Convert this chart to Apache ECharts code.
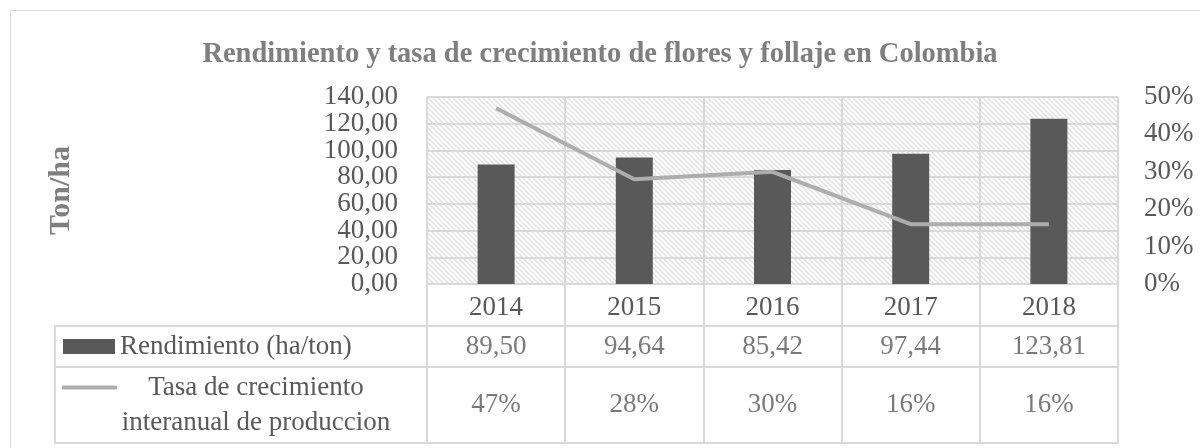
<!DOCTYPE html>
<html><head><meta charset="utf-8">
<script src="https://cdn.jsdelivr.net/npm/echarts@6/dist/echarts.min.js"></script>
<style>html,body{margin:0;padding:0;background:#fff}#c{width:1200px;height:448px}</style>
</head><body><div id="c"></div>
<script>
// ---- data ----
const years = ['2014', '2015', '2016', '2017', '2018'];
const rendimiento = [89.50, 94.64, 85.42, 97.44, 123.81];
const tasa = [0.47, 0.28, 0.30, 0.16, 0.16];
const leftAxisRange = [0, 140, 20];
const rightAxisRange = [0, 0.5, 0.1];
const titleText = 'Rendimiento y tasa de crecimiento de flores y follaje en Colombia';
const yName = 'Ton/ha';
const barName = 'Rendimiento (ha/ton)';
const lineName = 'Tasa de crecimiento interanual de produccion';

// ---- styles ----
const FONT = "'Liberation Serif', 'Times New Roman', serif";
const TXT = '#595959';
const GRID = '#d9d9d9';
const FS = 27;

const fmtNum = v => v.toFixed(2).replace('.', ',');
const fmtPct = v => Math.round(v * 100) + '%';
// split left tick labels over two coincident axes so none get auto-hidden
const stepIdx = v => Math.round((v - leftAxisRange[0]) / leftAxisRange[2]);
const fmtEven = v => (stepIdx(v) % 2 === 0 ? fmtNum(v) : '');
const fmtOdd = v => (stepIdx(v) % 2 === 1 ? fmtNum(v) : '');

// hatch pattern
const pc = document.createElement('canvas');
pc.width = pc.height = 5;
const px = pc.getContext('2d');
px.fillStyle = '#ffffff'; px.fillRect(0, 0, 5, 5);
px.strokeStyle = '#e0e0e0'; px.lineWidth = 1.3;
px.beginPath();
px.moveTo(-1, -1); px.lineTo(6, 6);
px.moveTo(-1, 4); px.lineTo(1, 6);
px.moveTo(4, -1); px.lineTo(6, 1);
px.stroke();

const chart = echarts.init(document.getElementById('c'), null, {renderer: 'canvas'});

const hiddenVal = idx => ({type: 'value', gridIndex: idx, min: 0, max: 1, show: false});
const tableX = idx => ({
  type: 'category', gridIndex: idx, data: years,
  axisLine: {show: false}, axisTick: {show: false}, axisLabel: {show: false},
  splitLine: {show: true, interval: 0, lineStyle: {color: GRID, width: 2}}
});
const cellLabel = fmt => ({
  show: true, position: 'inside', color: TXT, fontFamily: FONT, fontSize: FS,
  formatter: p => fmt(p.data[2])
});
const leftLabel = (fmt, showMin, showMax) => ({
  color: TXT, fontFamily: FONT, fontSize: FS, margin: 29, formatter: fmt,
  showMinLabel: showMin, showMaxLabel: showMax, hideOverlap: false
});

chart.setOption({
  animation: false,
  backgroundColor: '#fff',
  title: {
    text: titleText, left: 'center', top: 35,
    textStyle: {fontFamily: FONT, fontWeight: 'bold', fontSize: 28.5, color: '#7f7f7f'}
  },
  graphic: [{
    type: 'rect', shape: {x: 10.5, y: 10.5, width: 1400, height: 600},
    style: {fill: 'none', stroke: GRID, lineWidth: 1}, silent: true, z: -1
  }],
  legend: [{
    data: [{name: barName, icon: 'rect'}],
    left: 63, top: 333, padding: 0, itemWidth: 52, itemHeight: 15, selectedMode: false,
    textStyle: {fontFamily: FONT, fontSize: FS, color: TXT}
  }, {
    data: [{name: lineName, icon: 'roundRect'}],
    left: 62, top: 339, padding: 0, itemWidth: 55, itemHeight: 4, selectedMode: false,
    formatter: () => '{a| }\n{a|Tasa de crecimiento}\n{a|interanual de produccion}',
    textStyle: {
      fontFamily: FONT, fontSize: FS, color: TXT,
      rich: {a: {width: 268, align: 'center', fontFamily: FONT, fontSize: FS, color: TXT, lineHeight: 35}}
    }
  }],
  grid: [
    {left: 427, right: 82, top: 97, bottom: 164, show: true, borderWidth: 0,
     backgroundColor: {image: pc, repeat: 'repeat'}},
    {left: 427, right: 82, top: 326, height: 41, show: true, borderColor: GRID, borderWidth: 2},
    {left: 427, right: 82, top: 367, height: 76, show: true, borderColor: GRID, borderWidth: 2},
    {left: 55, width: 372, top: 326, height: 41, show: true, borderColor: GRID, borderWidth: 2},
    {left: 55, width: 372, top: 367, height: 76, show: true, borderColor: GRID, borderWidth: 2}
  ],
  xAxis: [
    {type: 'category', gridIndex: 0, data: years,
     axisLine: {show: true, lineStyle: {color: GRID, width: 2}},
     axisTick: {show: true, length: 42, interval: 0, lineStyle: {color: GRID, width: 2}},
     axisLabel: {color: TXT, fontFamily: FONT, fontSize: FS, margin: 10},
     splitLine: {show: true, interval: 0, lineStyle: {color: GRID, width: 2}}},
    tableX(1), tableX(2),
    {type: 'value', gridIndex: 3, show: false}, {type: 'value', gridIndex: 4, show: false}
  ],
  yAxis: [
    {type: 'value', gridIndex: 0, min: leftAxisRange[0], max: leftAxisRange[1], interval: leftAxisRange[2],
     name: yName, nameLocation: 'middle', nameRotate: 90, nameGap: 351,
     nameTextStyle: {fontFamily: FONT, fontWeight: 'bold', fontSize: 30, color: '#7f7f7f'},
     axisLine: {show: false}, axisTick: {show: false},
     axisLabel: leftLabel(fmtEven, true, false),
     splitLine: {show: true, lineStyle: {color: GRID, width: 2}}},
    {type: 'value', gridIndex: 0, position: 'right', min: rightAxisRange[0], max: rightAxisRange[1], interval: rightAxisRange[2],
     axisLine: {show: false}, axisTick: {show: false}, splitLine: {show: false},
     axisLabel: {color: TXT, fontFamily: FONT, fontSize: FS, margin: 26, formatter: fmtPct,
                 showMinLabel: true, showMaxLabel: true}},
    hiddenVal(1), hiddenVal(2), hiddenVal(3), hiddenVal(4),
    {type: 'value', gridIndex: 0, position: 'left', offset: 0,
     min: leftAxisRange[0], max: leftAxisRange[1], interval: leftAxisRange[2],
     axisLine: {show: false}, axisTick: {show: false}, splitLine: {show: false},
     axisLabel: leftLabel(fmtOdd, false, true)}
  ],
  series: [
    {name: barName, type: 'bar', xAxisIndex: 0, yAxisIndex: 0, data: rendimiento,
     barWidth: 37, itemStyle: {color: '#595959'}},
    {name: lineName, type: 'line', xAxisIndex: 0, yAxisIndex: 1, data: tasa,
     symbol: 'none', lineStyle: {color: '#adadad', width: 4}, itemStyle: {color: '#adadad'}},
    {type: 'scatter', xAxisIndex: 1, yAxisIndex: 2, silent: true, symbolSize: 1,
     itemStyle: {color: 'rgba(0,0,0,0)'},
     data: rendimiento.map((v, i) => [i, 0.5, v]), label: cellLabel(fmtNum)},
    {type: 'scatter', xAxisIndex: 2, yAxisIndex: 3, silent: true, symbolSize: 1,
     itemStyle: {color: 'rgba(0,0,0,0)'},
     data: tasa.map((v, i) => [i, 0.5, v]), label: cellLabel(fmtPct)}
  ]
});
</script></body></html>
